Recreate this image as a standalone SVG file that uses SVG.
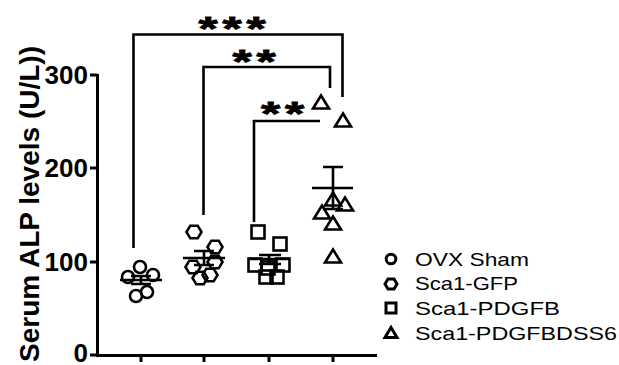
<svg xmlns="http://www.w3.org/2000/svg" width="619" height="365" viewBox="0 0 619 365">
<defs>
<style>
.ln{stroke:#000;stroke-width:3;fill:none;stroke-linecap:butt}
.br{stroke:#000;stroke-width:2.6;fill:none}
.mk{stroke:#000;stroke-width:2.6;fill:none}
.tk{font-family:"Liberation Sans",Arial,sans-serif;font-weight:bold;font-size:26px;fill:#000;text-anchor:end}
.ttl{font-family:"Liberation Sans",Arial,sans-serif;font-weight:bold;font-size:27px;fill:#000;text-anchor:middle}
.st{font-family:"Liberation Sans",Arial,sans-serif;font-weight:bold;font-size:34px;fill:#000;stroke:#000;stroke-width:0.9;text-anchor:middle;letter-spacing:3.3px}
.lg{font-family:"Liberation Sans",Arial,sans-serif;font-size:19px;fill:#000}
</style>
<circle id="c" r="6" class="mk"/>
<polygon id="h" points="-7.5,0 -3.7,-6.3 3.7,-6.3 7.5,0 3.7,6.3 -3.7,6.3" class="mk"/>
<rect id="s" x="-6.5" y="-6.5" width="13" height="13" class="mk"/>
<polygon id="t" points="0,-7.5 8,5.5 -8,5.5" class="mk"/>
</defs>
<rect width="619" height="365" fill="#fff"/>
<g id="axes">
<path class="ln" d="M97.5,74 V355.5 H377"/>
<path class="ln" d="M90,75 H97.5 M90,168 H97.5 M90,262 H97.5 M90,355 H97.5"/>
<path class="ln" d="M141,355 V362 M204,355 V362 M269,355 V362 M333,355 V362"/>
<text class="tk" x="88" y="84">300</text>
<text class="tk" x="88" y="177">200</text>
<text class="tk" x="88" y="271">100</text>
<text class="tk" x="88" y="362">0</text>
<text class="ttl" transform="translate(39,204) rotate(-90)" textLength="316" lengthAdjust="spacingAndGlyphs">Serum ALP levels (U/L))</text>
</g>
<g id="connectors">
<path class="br" d="M133.5,248 V34.5 H342.5 V97"/>
<path class="br" d="M203.5,215 V67 H330 V88"/>
<path class="br" d="M254,222 V121 H320"/>
<text class="st" transform="translate(234.5,40) scale(1.45,1)">***</text>
<text class="st" transform="translate(256.5,73) scale(1.45,1)">**</text>
<text class="st" transform="translate(285,125) scale(1.45,1)">**</text>
</g>
<g id="ovx-sham">
<use href="#c" x="140" y="267"/>
<use href="#c" x="128" y="277"/>
<use href="#c" x="153" y="275"/>
<use href="#c" x="136" y="296"/>
<use href="#c" x="147" y="292"/>
<path class="br" d="M120,280 H162 M131,276 H151 M131,284 H151 M141,276 V284"/>
</g>
<g id="sca1-gfp">
<use href="#h" x="194" y="232"/>
<use href="#h" x="215" y="247"/>
<use href="#h" x="215" y="262"/>
<use href="#h" x="193" y="267"/>
<use href="#h" x="200" y="278"/>
<use href="#h" x="210" y="275"/>
<path class="br" d="M183,258 H225 M194,251 H214 M194,265 H214 M204,251 V265"/>
</g>
<g id="sca1-pdgfb">
<use href="#s" x="258" y="232"/>
<use href="#s" x="280" y="244"/>
<use href="#s" x="255" y="265"/>
<use href="#s" x="283" y="265"/>
<use href="#s" x="268" y="268"/>
<use href="#s" x="266" y="277"/>
<use href="#s" x="277" y="277"/>
<path class="br" d="M249,259 H290 M259,255 H281 M259,264 H281 M269,255 V264"/>
</g>
<g id="sca1-pdgfbdss6">
<use href="#t" x="321" y="103"/>
<use href="#t" x="343" y="121"/>
<use href="#t" x="333" y="200"/>
<use href="#t" x="345" y="205"/>
<use href="#t" x="322" y="213"/>
<use href="#t" x="333" y="224"/>
<use href="#t" x="333" y="257"/>
<path class="br" d="M312,188 H353 M323,167 H343 M323,209 H343 M333,167 V209"/>
</g>
<g id="legend">
<circle cx="391" cy="259" r="4.8" stroke="#000" stroke-width="3" fill="none"/>
<polygon transform="translate(391,284)" points="-6,0 -3,-5 3,-5 6,0 3,5 -3,5" stroke="#000" stroke-width="3" fill="none"/>
<rect x="386" y="303" width="10" height="10" stroke="#000" stroke-width="3" fill="none"/>
<polygon transform="translate(391,333)" points="0,-5.5 6,4.5 -6,4.5" stroke="#000" stroke-width="3" fill="none"/>
<text class="lg" x="415" y="266" textLength="114" lengthAdjust="spacingAndGlyphs">OVX Sham</text>
<text class="lg" x="415" y="290" textLength="103" lengthAdjust="spacingAndGlyphs">Sca1-GFP</text>
<text class="lg" x="415" y="315" textLength="145" lengthAdjust="spacingAndGlyphs">Sca1-PDGFB</text>
<text class="lg" x="415" y="340" textLength="202" lengthAdjust="spacingAndGlyphs">Sca1-PDGFBDSS6</text>
</g>
</svg>
